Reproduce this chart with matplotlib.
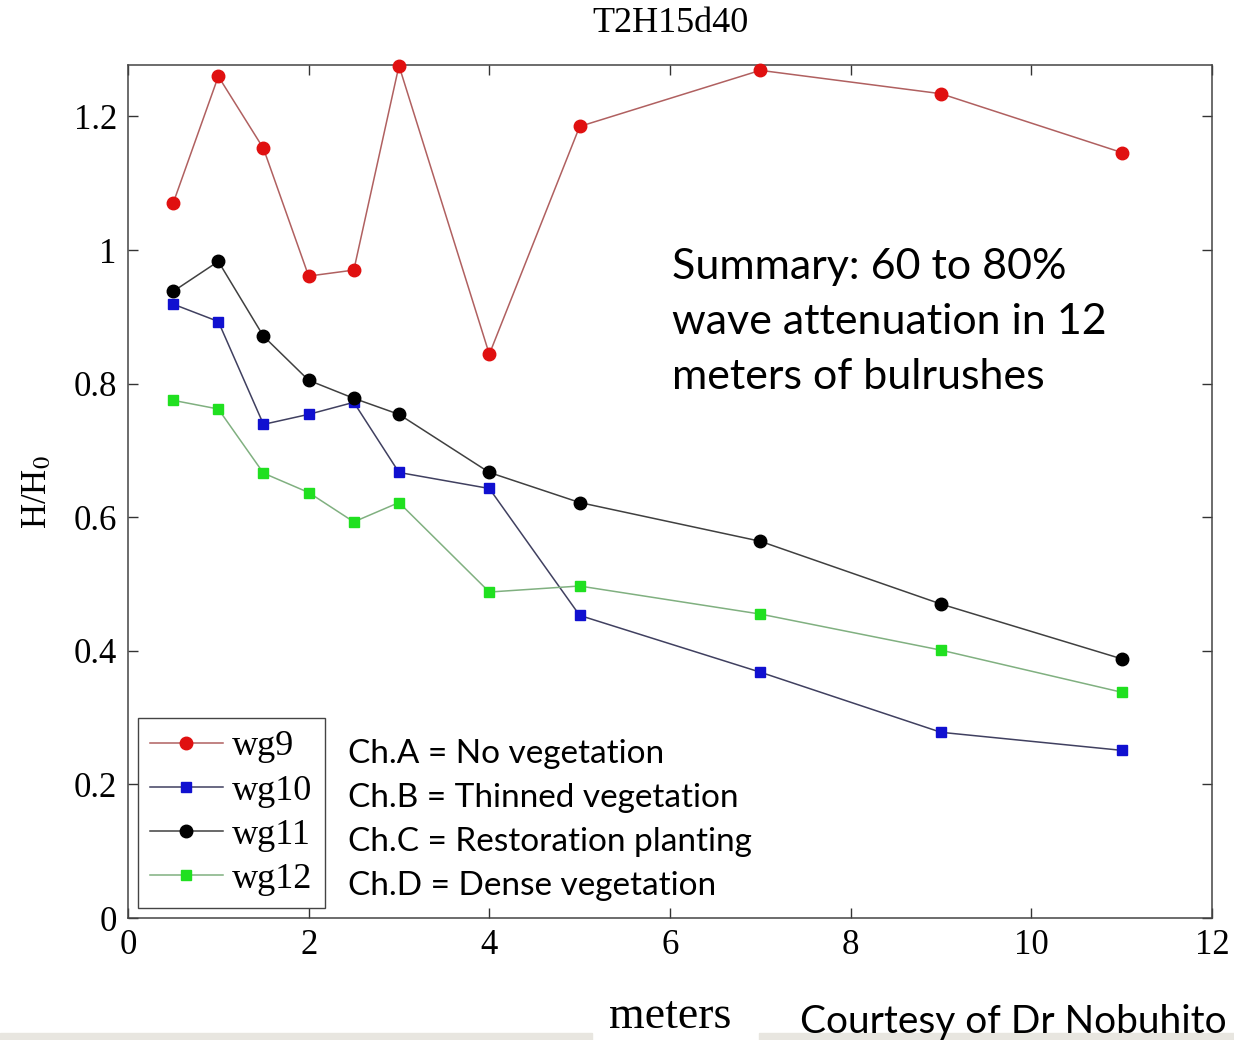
import matplotlib
matplotlib.use("Agg")
import matplotlib.pyplot as plt
from matplotlib.patches import Rectangle

plt.rcParams["mathtext.fontset"] = "stix"

# gauge positions (m) and H/H0 per wave gauge
x_m = [0.5, 1, 1.5, 2, 2.5, 3, 4, 5, 7, 9, 11]
wg9 = [1.070, 1.260, 1.152, 0.961, 0.970, 1.276, 0.844, 1.185, 1.269, 1.234, 1.146]
wg10 = [0.919, 0.893, 0.739, 0.754, 0.772, 0.667, 0.643, 0.453, 0.368, 0.278, 0.251]
wg11 = [0.938, 0.983, 0.871, 0.805, 0.778, 0.754, 0.667, 0.622, 0.564, 0.470, 0.388]
wg12 = [0.775, 0.762, 0.666, 0.637, 0.593, 0.622, 0.488, 0.497, 0.455, 0.401, 0.338]

names = ["wg9", "wg10", "wg11", "wg12"]
channels = ["Ch.A = No vegetation", "Ch.B = Thinned vegetation",
            "Ch.C = Restoration planting", "Ch.D = Dense vegetation"]
xticks = [0, 2, 4, 6, 8, 10, 12]
yticks = [0, 0.2, 0.4, 0.6, 0.8, 1, 1.2]
ytick_labels = ["0", "0.2", "0.4", "0.6", "0.8", "1", "1.2"]

serif = "Liberation Serif"
sans = "Lato"

fig = plt.figure(figsize=(12.34, 10.40), dpi=100)
ax = fig.add_axes([0.1037, 0.1173, 0.8785, 0.8202])

styles = [
    (wg9, "o", "#e01010", "#b06060", 9),
    (wg10, "s", "#1010d0", "#404060", 7.5),
    (wg11, "o", "#000000", "#404040", 9),
    (wg12, "s", "#20e020", "#80b080", 7.5),
]
for (vals, mk, mc, lc, ms), name in zip(styles, names):
    ax.plot(x_m, vals, color=lc, lw=1.1, marker=mk, ms=ms,
            mfc=mc, mec=mc, label=name, clip_on=False, zorder=3)

ax.set_xlim(0, 12)
ax.set_ylim(0, 1.277)
ax.set_xticks(xticks)
ax.set_xticklabels([str(t) for t in xticks])
ax.set_yticks(yticks)
ax.set_yticklabels(ytick_labels)
ax.tick_params(direction="in", length=7, width=1, colors="#333333",
               top=True, right=True, labelsize=25, pad=8)
for lab in ax.get_xticklabels() + ax.get_yticklabels():
    lab.set_fontfamily(serif)
    lab.set_color("black")
for sp in ax.spines.values():
    sp.set_color("#444444")
    sp.set_linewidth(1.1)

ax.set_title("T2H15d40", fontfamily=serif, fontsize=26, pad=24)
ax.set_ylabel(r"H/H$_0$", fontfamily=serif, fontsize=25, labelpad=14)
ax.set_xlabel("meters", fontfamily=serif, fontsize=33, labelpad=24)

leg = ax.legend(loc="upper left", bbox_to_anchor=(0.009, 0.235),
                borderaxespad=0, fancybox=False, framealpha=1,
                edgecolor="#444444", handlelength=2.0, handletextpad=0.25,
                labelspacing=0.3, borderpad=0.35,
                prop={"family": serif, "size": 26})
leg.get_frame().set_linewidth(1.0)

for i, txt in enumerate(channels):
    ax.text(0.203, 0.192 - i * 0.0516, txt, transform=ax.transAxes,
            fontfamily=sans, fontsize=24, va="center", ha="left")

ax.text(0.502, 0.786, "Summary: 60 to 80%\nwave attenuation in 12\nmeters of bulrushes",
        transform=ax.transAxes, fontfamily=sans, fontsize=31, va="top",
        ha="left", linespacing=1.55)

fig.text(0.648, 0.0, "Courtesy of Dr Nobuhito Mori", fontfamily=sans,
         fontsize=28, va="bottom", ha="left")

# faint slide strip along the bottom edge
fig.patches.append(Rectangle((0, 0), 0.48, 0.007, transform=fig.transFigure,
                             color="#e8e6e0", zorder=0))
fig.patches.append(Rectangle((0.615, 0), 0.385, 0.007, transform=fig.transFigure,
                             color="#e8e6e0", zorder=0))

fig.savefig("out.png", dpi=100)
